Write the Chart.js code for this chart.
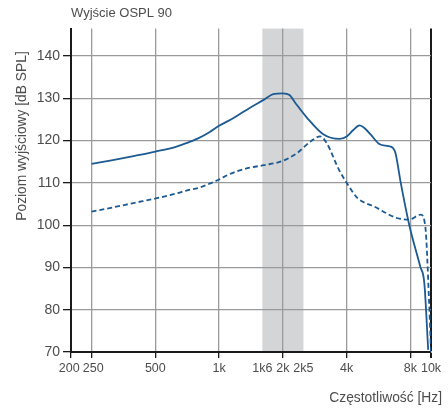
<!DOCTYPE html>
<html>
<head>
<meta charset="utf-8">
<script src="https://cdn.jsdelivr.net/npm/chart.js@4.4.1/dist/chart.umd.min.js"></script>
<style>
  body { margin: 0; background: #fff; }
</style>
</head>
<body>
<canvas id="myChart" width="448" height="410"></canvas>
<script>
// axis ticks
const xTicks = [200, 250, 500, 1000, 1600, 2000, 2500, 4000, 8000, 10000];
const xTickLabels = ['200 ', ' 250', '500', '1k', '1k6', '2k', '2k5', '4k', '8k', '10k'];
const yTicks = [70, 80, 90, 100, 110, 120, 130, 140];
const band = [1600, 2500]; // shaded frequency range

// OSPL 90 curve (solid)
const solidFreq = [250, 315, 400, 500, 630, 700, 800, 900, 1000, 1175, 1400, 1630, 1800, 2000, 2150, 2300, 2600, 3100, 3700, 4000, 4300, 4600, 4850, 5200, 5700, 6300, 6600, 6800, 7200, 7900, 8900, 9300, 9700];
const solidLevel = [114.5, 115.4, 116.4, 117.4, 118.6, 119.4, 120.6, 122.0, 123.5, 125.4, 127.8, 129.7, 131.0, 131.2, 130.8, 128.8, 125.4, 121.5, 120.4, 121.0, 122.5, 123.6, 123.0, 121.4, 119.2, 118.7, 118.3, 117.0, 110.0, 100.0, 90.2, 86.3, 70.5];

// second curve (dashed)
const dashFreq = [250, 315, 400, 500, 630, 700, 800, 900, 1000, 1100, 1240, 1400, 1630, 1970, 2340, 2700, 3000, 3220, 3680, 4100, 4500, 5400, 6900, 7870, 8940, 9400, 9800, 10000];
const dashLevel = [103.2, 104.2, 105.3, 106.3, 107.5, 108.2, 108.8, 109.8, 110.8, 111.9, 112.9, 113.6, 114.2, 115.1, 117.1, 119.8, 121.0, 119.4, 113.1, 109.2, 106.4, 104.4, 101.7, 101.3, 102.5, 99.7, 81.6, 70];

const titleText = 'Wyjście OSPL 90';
const yTitle = 'Poziom wyjściowy [dB SPL]';
const xTitle = 'Częstotliwość [Hz]';

const fontFamily = "'Liberation Sans', Arial, sans-serif";
const textColor = '#4d4d4d';
const lineColor = '#1b5a92';

const bandPlugin = {
    id: 'band',
    beforeDraw(chart) {
        const {ctx, chartArea, scales} = chart;
        const x0 = scales.x.getPixelForValue(band[0]);
        const x1 = scales.x.getPixelForValue(band[1]);
        ctx.save();
        ctx.fillStyle = '#d4d5d7';
        ctx.fillRect(x0, chartArea.top, x1 - x0, chartArea.bottom - chartArea.top);
        ctx.restore();
    }
};

// axis titles placed like in the original
const axisTitles = {
    id: 'axisTitles',
    afterDraw(chart) {
        const ctx = chart.ctx;
        ctx.save();
        ctx.fillStyle = textColor;
        ctx.font = '13.8px ' + fontFamily;
        ctx.textBaseline = 'middle';
        ctx.textAlign = 'right';
        ctx.fillText(xTitle, 442, 398);
        ctx.translate(22, 136);
        ctx.rotate(-Math.PI / 2);
        ctx.textAlign = 'center';
        ctx.fillText(yTitle, 0, 0);
        ctx.restore();
    }
};

const ctx = document.getElementById('myChart').getContext('2d');
const myChart = new Chart(ctx, {
    type: 'line',
    data: {
        datasets: [{
            label: 'OSPL 90',
            data: solidFreq.map((f, i) => ({x: f, y: solidLevel[i]})),
            borderColor: lineColor,
            borderWidth: 1.8,
            pointRadius: 0,
            cubicInterpolationMode: 'monotone',
            fill: false
        }, {
            label: 'OSPL 90 (2)',
            data: dashFreq.map((f, i) => ({x: f, y: dashLevel[i]})),
            borderColor: lineColor,
            borderWidth: 1.8,
            borderDash: [5, 3],
            pointRadius: 0,
            cubicInterpolationMode: 'monotone',
            fill: false
        }]
    },
    options: {
        responsive: false,
        animation: false,
        layout: { padding: { top: 0, right: 17, bottom: 0, left: 0 } },
        plugins: {
            legend: { display: false },
            tooltip: { enabled: false },
            title: {
                display: true,
                text: titleText,
                align: 'start',
                fullSize: false,
                color: textColor,
                font: { family: fontFamily, size: 13, weight: 'normal' },
                padding: { top: 6, bottom: 7 }
            }
        },
        scales: {
            x: {
                type: 'logarithmic',
                min: 200,
                max: 10000,
                afterBuildTicks: s => { s.ticks = xTicks.map(v => ({value: v})); },
                afterFit: s => { s.height = 58; },
                ticks: {
                    autoSkip: false,
                    maxRotation: 0,
                    padding: 3,
                    color: textColor,
                    font: { family: fontFamily, size: 12.5 },
                    callback: v => xTickLabels[xTicks.indexOf(v)]
                },
                grid: {
                    color: c => {
                        const v = c.tick && c.tick.value;
                        if (v === 10000) return '#1a1a1a';
                        if (v === 200 || v === 1600 || v === 2500) return 'transparent';
                        return '#9a9a9a';
                    },
                    lineWidth: c => (c.tick && c.tick.value === 10000) ? 2 : 1.3,
                    tickColor: c => {
                        const v = c.tick && c.tick.value;
                        return (v === 1600 || v === 2500) ? 'transparent' : '#1a1a1a';
                    },
                    tickLength: 6
                },
                border: { color: '#1a1a1a', width: 2 }
            },
            y: {
                min: 70,
                max: 146.5,
                afterBuildTicks: s => { s.ticks = yTicks.map(v => ({value: v})); },
                afterFit: s => { s.width = 71; },
                ticks: {
                    padding: 3,
                    color: textColor,
                    font: { family: fontFamily, size: 14 }
                },
                grid: {
                    color: c => (c.tick && c.tick.value === 70) ? 'transparent' : '#9a9a9a',
                    lineWidth: 1.3,
                    tickColor: '#1a1a1a',
                    tickLength: 8
                },
                border: { color: '#1a1a1a', width: 2 }
            }
        }
    },
    plugins: [bandPlugin, axisTitles]
});
</script>
</body>
</html>
